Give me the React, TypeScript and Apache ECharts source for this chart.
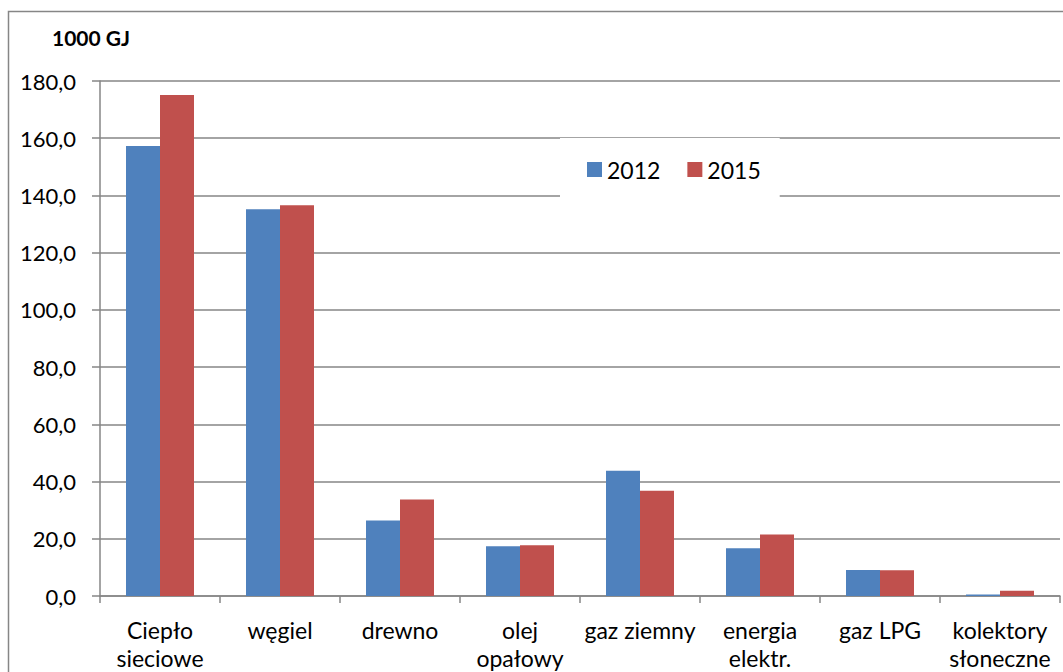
import React, { useEffect, useRef } from "react";
import * as echarts from "echarts";

const categories = [
  "Ciepło\nsieciowe",
  "węgiel",
  "drewno",
  "olej\nopałowy",
  "gaz ziemny",
  "energia\nelektr.",
  "gaz LPG",
  "kolektory\nsłoneczne",
];
const series2012 = [157.3, 135.2, 26.4, 17.4, 43.8, 16.7, 9.1, 0.5];
const series2015 = [175.1, 136.6, 33.7, 17.7, 36.8, 21.5, 9.0, 1.8];
const seriesNames = ["2012", "2015"];
const unitLabel = "1000 GJ";

const FONT = "Lato, 'Open Sans', sans-serif";
const GRAY = "#868686";

export default function App() {
  const ref = useRef<HTMLDivElement>(null);
  useEffect(() => {
    if (!ref.current) return;
    const chart = echarts.init(ref.current, undefined, { renderer: "svg" });
    chart.setOption({
      animation: false,
      backgroundColor: "#ffffff",
      textStyle: { fontFamily: FONT },
      grid: { left: 100, right: 3, top: 81, bottom: 73, containLabel: false },
      graphic: [
        {
          type: "rect",
          shape: { x: 8.5, y: 11.5, width: 1100, height: 700 },
          style: { fill: "none", stroke: GRAY, lineWidth: 1.5 },
          z: 10,
          silent: true,
        },
        {
          type: "text",
          x: 52,
          y: 37,
          style: {
            text: unitLabel,
            fontFamily: FONT,
            fontSize: 21,
            fontWeight: "bold",
            fill: "#000",
            verticalAlign: "middle",
          },
        },
      ],
      legend: {
        data: seriesNames,
        left: 560,
        top: 138,
        padding: [20, 19, 22, 27],
        backgroundColor: "#ffffff",
        itemWidth: 15,
        itemHeight: 15,
        itemGap: 27,
        icon: "rect",
        textStyle: { fontFamily: FONT, fontSize: 23, color: "#000", padding: [0, 0, 0, 0] },
        z: 5,
      },
      xAxis: {
        type: "category",
        data: categories,
        axisLine: { show: true, lineStyle: { color: GRAY, width: 1.5 } },
        axisTick: { show: true, length: 7, lineStyle: { color: GRAY, width: 1.5 } },
        axisLabel: {
          interval: 0,
          margin: 20,
          fontFamily: FONT,
          fontSize: 23,
          lineHeight: 28,
          color: "#000",
        },
        splitLine: { show: false },
      },
      yAxis: {
        type: "value",
        min: 0,
        max: 180,
        interval: 20,
        axisLine: { show: true, lineStyle: { color: GRAY, width: 1.5 } },
        axisTick: { show: true, length: 8, lineStyle: { color: GRAY, width: 1.5 } },
        axisLabel: {
          margin: 24,
          fontFamily: FONT,
          fontSize: 22,
          color: "#000",
          formatter: (v: number) => v.toFixed(1).replace(".", ","),
        },
        splitLine: { show: true, lineStyle: { color: GRAY, width: 1.5 } },
      },
      series: [
        {
          name: seriesNames[0],
          type: "bar",
          data: series2012,
          barWidth: 34,
          barGap: "0%",
          itemStyle: { color: "#4F81BD" },
        },
        {
          name: seriesNames[1],
          type: "bar",
          data: series2015,
          barWidth: 34,
          barGap: "0%",
          itemStyle: { color: "#C0504D" },
        },
      ],
    });
    return () => chart.dispose();
  }, []);
  return (
    <div
      ref={ref}
      style={{ position: "absolute", left: 0, top: 0, width: 1063, height: 672 }}
    />
  );
}
